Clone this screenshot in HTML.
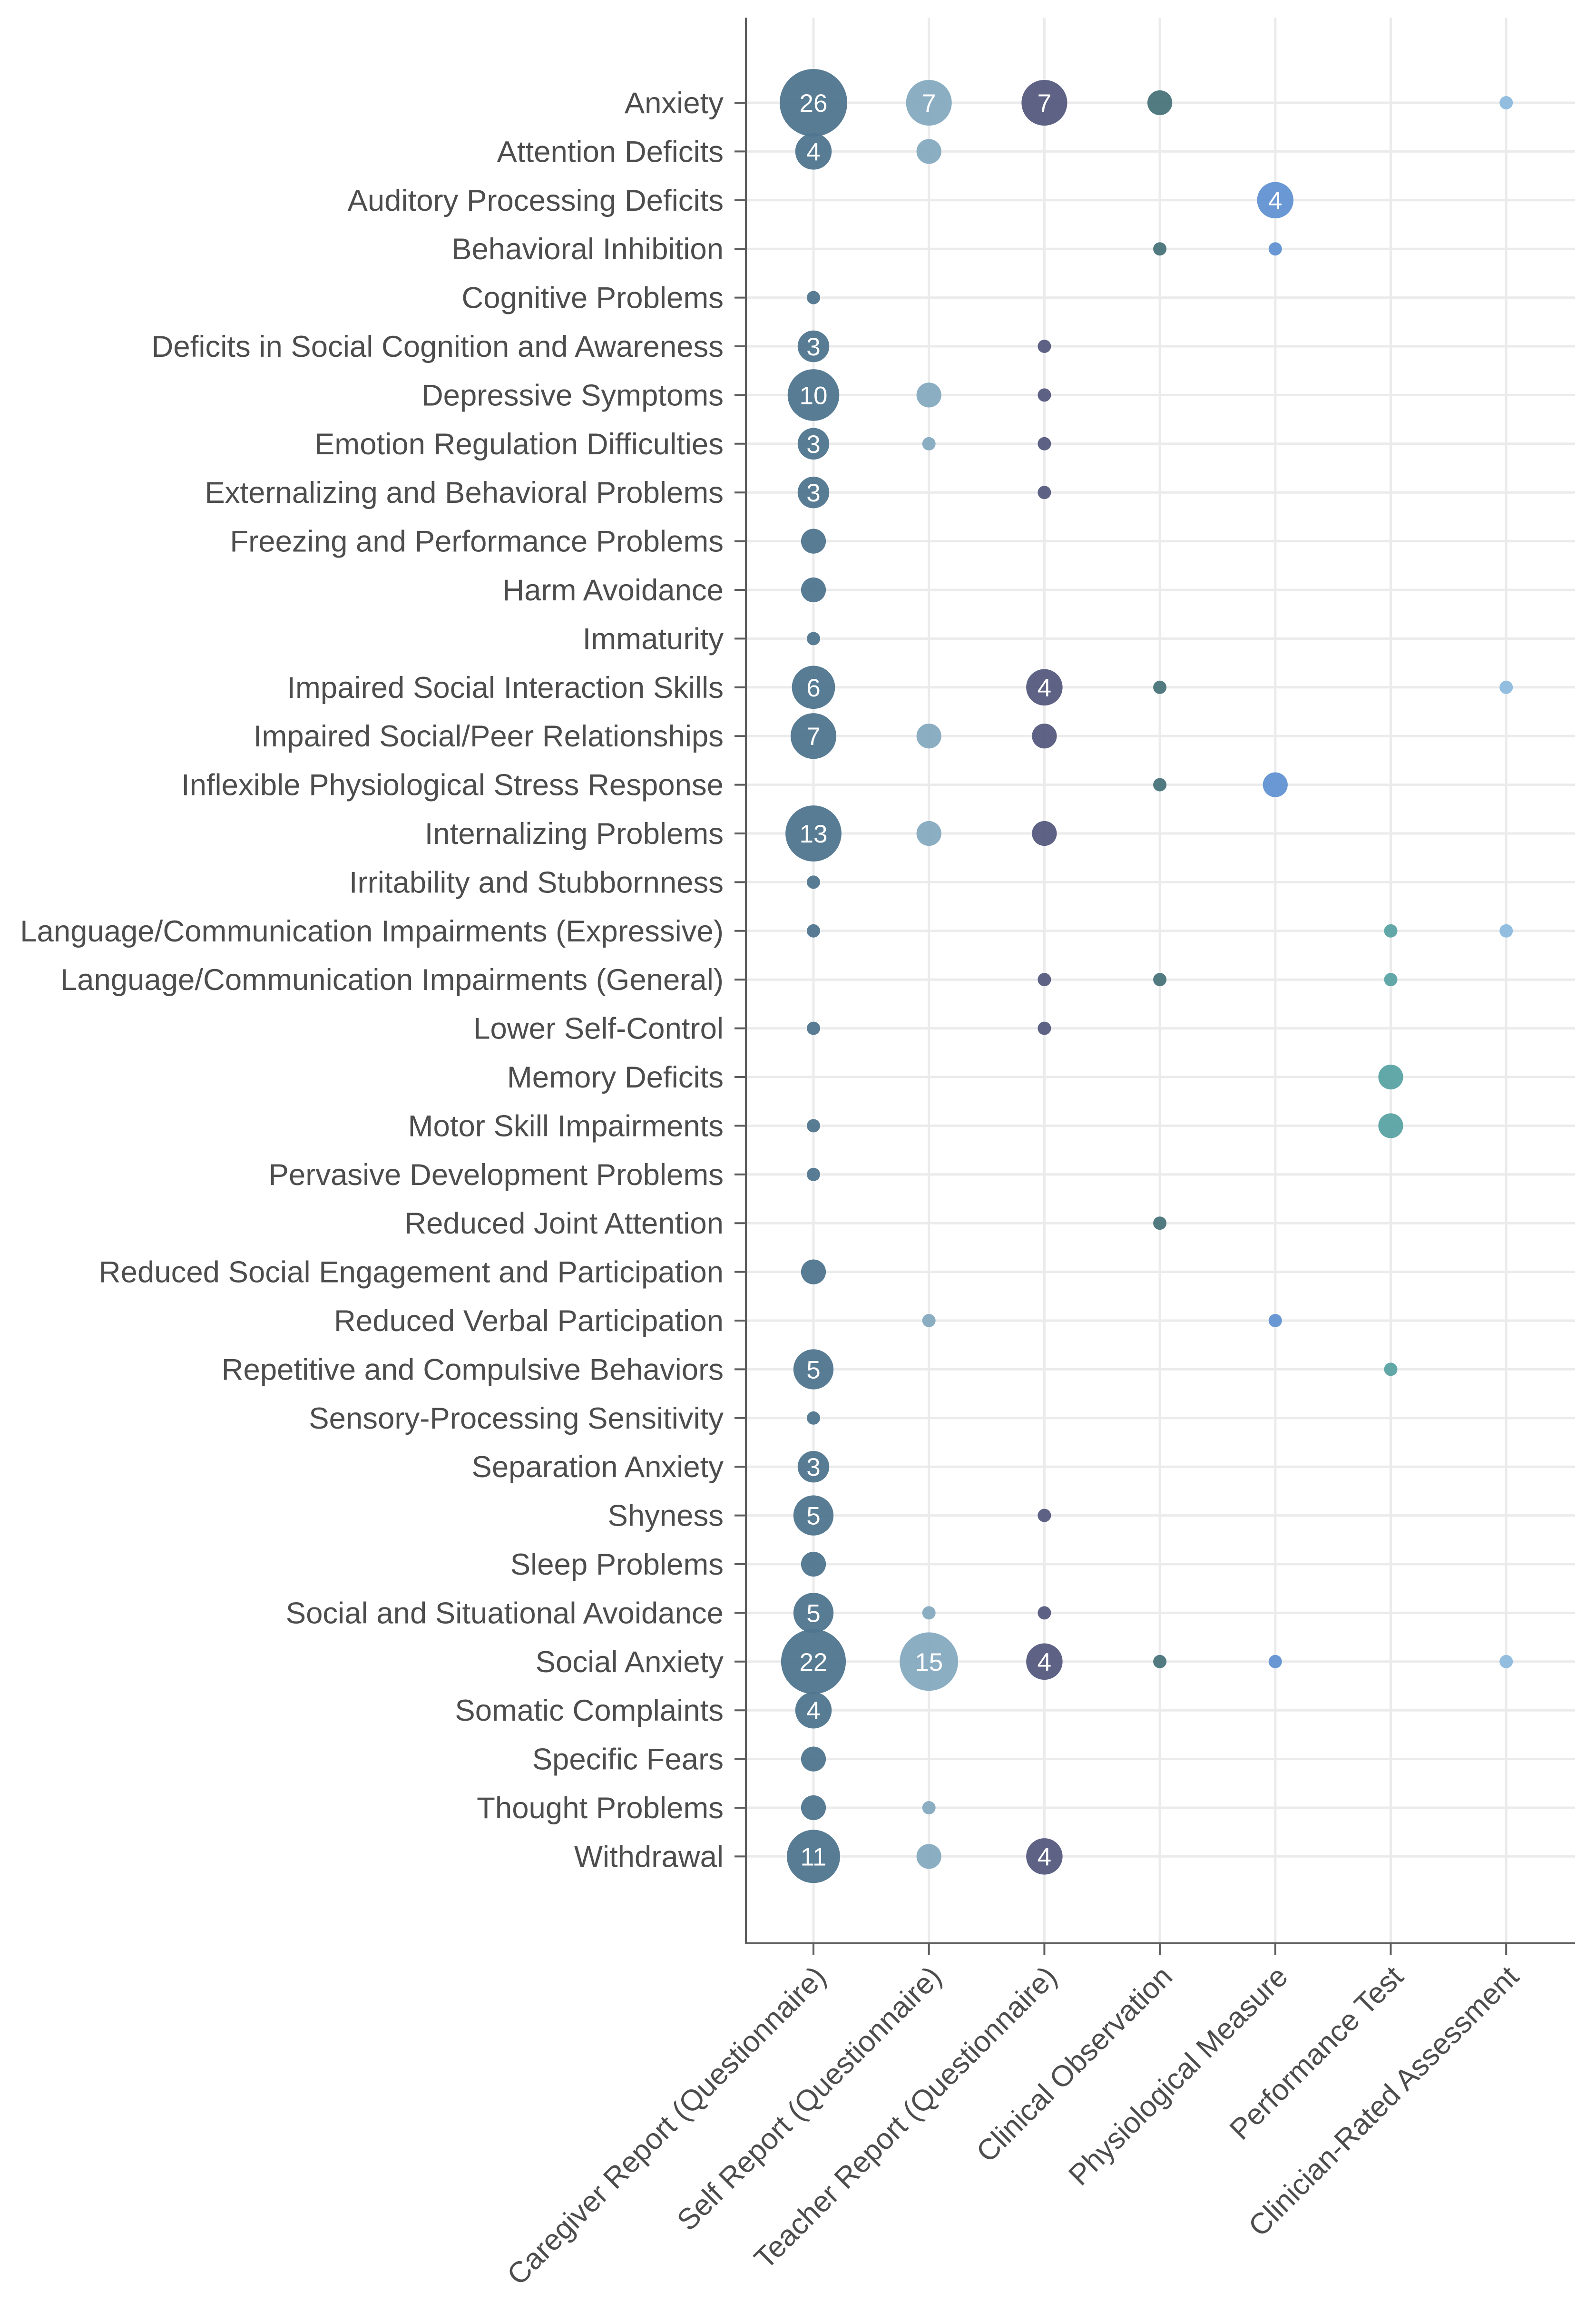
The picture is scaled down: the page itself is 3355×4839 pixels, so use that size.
<!DOCTYPE html>
<html><head><meta charset="utf-8"><style>
html,body{margin:0;padding:0;background:#fff;}
svg{display:block;font-family:"Liberation Sans",Arial,sans-serif;}
</style></head><body>
<svg id="chart" width="3355" height="4839" viewBox="0 0 3355 4839" xmlns="http://www.w3.org/2000/svg">
<rect width="3355" height="4839" fill="#ffffff"/>
<g id="grid"></g>
<g id="marks"></g>
<g id="axes"></g>
</svg>
<script>
const rowLabels = ["Anxiety","Attention Deficits","Auditory Processing Deficits","Behavioral Inhibition","Cognitive Problems","Deficits in Social Cognition and Awareness","Depressive Symptoms","Emotion Regulation Difficulties","Externalizing and Behavioral Problems","Freezing and Performance Problems","Harm Avoidance","Immaturity","Impaired Social Interaction Skills","Impaired Social/Peer Relationships","Inflexible Physiological Stress Response","Internalizing Problems","Irritability and Stubbornness","Language/Communication Impairments (Expressive)","Language/Communication Impairments (General)","Lower Self-Control","Memory Deficits","Motor Skill Impairments","Pervasive Development Problems","Reduced Joint Attention","Reduced Social Engagement and Participation","Reduced Verbal Participation","Repetitive and Compulsive Behaviors","Sensory-Processing Sensitivity","Separation Anxiety","Shyness","Sleep Problems","Social and Situational Avoidance","Social Anxiety","Somatic Complaints","Specific Fears","Thought Problems","Withdrawal"];
const colLabels = ["Caregiver Report (Questionnaire)","Self Report (Questionnaire)","Teacher Report (Questionnaire)","Clinical Observation","Physiological Measure","Performance Test","Clinician-Rated Assessment"];
const colColors = ["#4f758e","#85aac0","#555a7e","#49737a","#6192d2","#5aa3a3","#8dbade"];
const caregiver = [26,4,0,0,1,3,10,3,3,2,2,1,6,7,0,13,1,1,0,1,0,1,1,0,2,0,5,1,3,5,2,5,22,4,2,2,11];
const selfReport = [7,2,0,0,0,0,2,1,0,0,0,0,0,2,0,2,0,0,0,0,0,0,0,0,0,1,0,0,0,0,0,1,15,0,0,1,2];
const teacher = [7,0,0,0,0,1,1,1,1,0,0,0,4,2,0,2,0,0,1,1,0,0,0,0,0,0,0,0,0,1,0,1,4,0,0,0,4];
const clinicalObs = [2,0,0,1,0,0,0,0,0,0,0,0,1,0,1,0,0,0,1,0,0,0,0,1,0,0,0,0,0,0,0,0,1,0,0,0,0];
const physiological = [0,0,4,1,0,0,0,0,0,0,0,0,0,0,2,0,0,0,0,0,0,0,0,0,0,1,0,0,0,0,0,0,1,0,0,0,0];
const performance = [0,0,0,0,0,0,0,0,0,0,0,0,0,0,0,0,0,1,1,0,2,2,0,0,0,0,1,0,0,0,0,0,0,0,0,0,0];
const clinicianRated = [1,0,0,0,0,0,0,0,0,0,0,0,1,0,0,0,0,1,0,0,0,0,0,0,0,0,0,0,0,0,0,0,1,0,0,0,0];
const series = [caregiver,selfReport,teacher,clinicalObs,physiological,performance,clinicianRated];

const NS="http://www.w3.org/2000/svg";
const L=1568,R=3311,T=37,B=4085;
const x0=1710,dx=242.7,y0=216,dy=102.4;
function xPos(c){return x0+c*dx;}
function yPos(r){return y0+r*dy;}
function rad(n){return 14+17.5*Math.log(n);}
function mk(tag,attrs,parent){const e=document.createElementNS(NS,tag);for(const k in attrs)e.setAttribute(k,attrs[k]);parent.appendChild(e);return e;}
const grid=document.getElementById('grid'),marks=document.getElementById('marks'),axes=document.getElementById('axes');

rowLabels.forEach((lab,i)=>{
  const g=mk('line',{x1:L,x2:R,y1:yPos(i),y2:yPos(i),stroke:'#ebebeb','stroke-width':5},grid);
  
  
});
colLabels.forEach((lab,c)=>{
  const g=mk('line',{x1:xPos(c),x2:xPos(c),y1:T,y2:B,stroke:'#ebebeb','stroke-width':5},grid);
  
  
});

series.forEach((vals,c)=>{
  vals.forEach((v,r)=>{
    if(!v)return;
    const ci=mk('circle',{cx:xPos(c),cy:yPos(r),r:rad(v),fill:colColors[c],'fill-opacity':0.95},marks);
    
    
    if(v>=3){
      const t=mk('text',{x:xPos(c),y:yPos(r)+19,'text-anchor':'middle','font-size':53,fill:'#ffffff'},marks);
      t.textContent=v;
      
      
    }
  });
});

let a=mk('line',{x1:L,x2:L,y1:T,y2:B+2,stroke:'#5e5e5e','stroke-width':4},axes);


a=mk('line',{x1:L-2,x2:R,y1:B,y2:B,stroke:'#5e5e5e','stroke-width':4},axes);



rowLabels.forEach((lab,i)=>{
  const tk=mk('line',{x1:L-24,x2:L,y1:yPos(i),y2:yPos(i),stroke:'#5e5e5e','stroke-width':4},axes);
  
  
  const t=mk('text',{x:1521,y:yPos(i)+22,'text-anchor':'end','font-size':63.5,fill:'#4d4d4d'},axes);
  t.textContent=lab;
  
  
});
colLabels.forEach((lab,c)=>{
  const tk=mk('line',{x1:xPos(c),x2:xPos(c),y1:B,y2:B+24,stroke:'#5e5e5e','stroke-width':4},axes);
  
  
  const ax=xPos(c)+30, ay=B+74;
  const t=mk('text',{x:ax,y:ay,'text-anchor':'end','font-size':62,fill:'#4d4d4d',transform:`rotate(-45 ${ax} ${ay})`},axes);
  t.textContent=lab;
  
  
});
</script>
</body></html>
